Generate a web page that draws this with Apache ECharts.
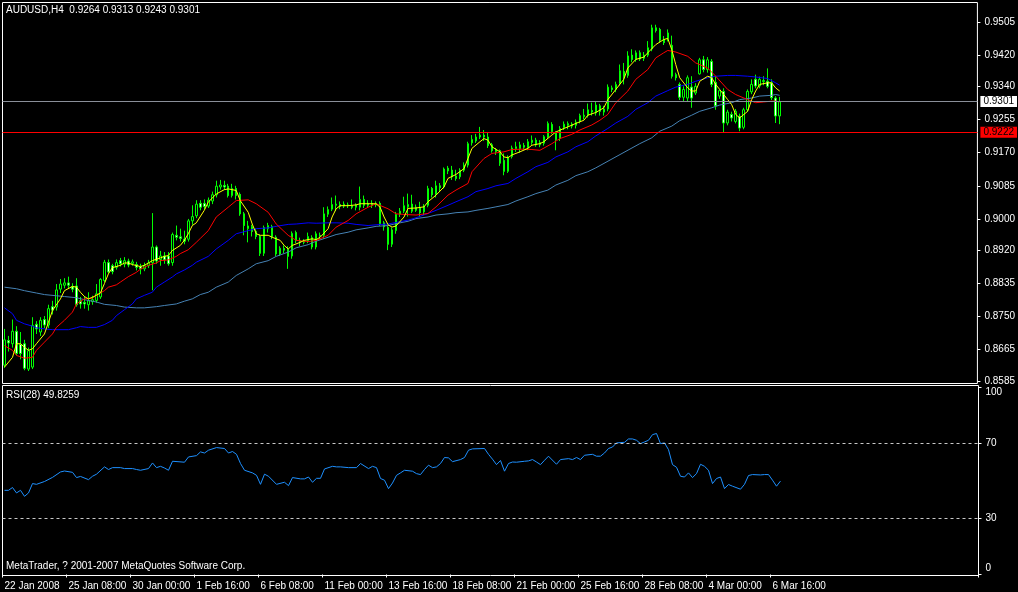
<!DOCTYPE html>
<html><head><meta charset="utf-8">
<script src="https://cdn.jsdelivr.net/npm/echarts@6/dist/echarts.min.js"></script>
<style>html,body{margin:0;padding:0;background:#000;}#c{width:1018px;height:592px;}</style>
</head><body><div id="c"></div>
<script>
// ---------- data ----------
const symbolTitle = 'AUDUSD,H4  0.9264 0.9313 0.9243 0.9301';
const rsiTitle = 'RSI(28) 49.8259';
const footerText = 'MetaTrader, ? 2001-2007 MetaQuotes Software Corp.';
const timeLabels = ['22 Jan 2008','25 Jan 08:00','30 Jan 00:00','1 Feb 16:00','6 Feb 08:00','11 Feb 00:00','13 Feb 16:00','18 Feb 08:00','21 Feb 00:00','25 Feb 16:00','28 Feb 08:00','4 Mar 00:00','6 Mar 16:00'];
const priceTicks = [0.9505,0.9420,0.9340,0.9255,0.9170,0.9085,0.9000,0.8920,0.8835,0.8750,0.8665,0.8585];
const rsiTicks = [100,70,30,0];
const bidPrice = 0.9301;
const levelPrice = 0.9222;
const rsiLevels = [70,30];

const opens = [
0.8625,0.8688,0.8680,0.8712,0.8678,0.8680,0.8615,0.8620,0.8730,0.8710,
0.8742,0.8728,0.8775,0.8774,0.8820,0.8830,0.8836,0.8826,0.8828,0.8790,
0.8786,0.8780,0.8788,0.8791,0.8800,0.8842,0.8888,0.8880,0.8876,0.8893,
0.8884,0.8892,0.8886,0.8883,0.8878,0.8872,0.8880,0.8888,0.8928,0.8896,
0.8905,0.8905,0.8888,0.8958,0.8954,0.8948,0.8948,0.8995,0.9008,0.9040,
0.9040,0.9033,0.9046,0.9062,0.9082,0.9086,0.9084,0.9060,0.9078,0.9063,
0.9013,0.8975,0.8980,0.8968,0.8955,0.8912,0.8975,0.8980,0.8953,0.8910,
0.8924,0.8922,0.8905,0.8965,0.8945,0.8940,0.8944,0.8952,0.8928,0.8958,
0.8958,0.9012,0.9025,0.9035,0.9037,0.9033,0.9036,0.9034,0.9030,0.9030,
0.9050,0.9035,0.9040,0.9036,0.9040,0.8990,0.8978,0.8935,0.8970,0.9012,
0.9020,0.9031,0.9038,0.9022,0.9028,0.9018,0.9035,0.9078,0.9062,0.9085,
0.9082,0.9130,0.9125,0.9110,0.9108,0.9125,0.9138,0.9195,0.9200,0.9210,
0.9215,0.9210,0.9190,0.9172,0.9175,0.9150,0.9122,0.9160,0.9180,0.9180,
0.9188,0.9182,0.9196,0.9202,0.9190,0.9194,0.9210,0.9242,0.9222,0.9206,
0.9234,0.9244,0.9238,0.9240,0.9250,0.9262,0.9266,0.9278,0.9272,0.9290,
0.9274,0.9282,0.9336,0.9332,0.9348,0.9378,0.9368,0.9420,0.9409,0.9426,
0.9412,0.9420,0.9436,0.9490,0.9486,0.9460,0.9462,0.9445,0.9370,0.9345,
0.9312,0.9310,0.9338,0.9323,0.9372,0.9408,0.9383,0.9404,0.9350,0.9315,
0.9327,0.9246,0.9268,0.9250,0.9263,0.9235,0.9280,0.9326,0.9358,0.9341,
0.9352,0.9353,0.9349,0.9310,0.9264];
const highs = [
0.8718,0.8700,0.8742,0.8725,0.8710,0.8690,0.8670,0.8748,0.8738,0.8748,
0.8751,0.8780,0.8790,0.8833,0.8846,0.8848,0.8852,0.8835,0.8848,0.8800,
0.8802,0.8812,0.8803,0.8833,0.8848,0.8895,0.8896,0.8885,0.8896,0.8900,
0.8902,0.8898,0.8896,0.8890,0.8885,0.8888,0.8895,0.9015,0.8932,0.8918,
0.8915,0.8915,0.8965,0.8983,0.8975,0.8970,0.9000,0.9035,0.9048,0.9048,
0.9050,0.9055,0.9070,0.9098,0.9100,0.9098,0.9090,0.9090,0.9085,0.9068,
0.9018,0.8995,0.8985,0.8975,0.8960,0.8983,0.8990,0.8985,0.8958,0.8930,
0.8932,0.8930,0.8968,0.8970,0.8952,0.8948,0.8965,0.8958,0.8968,0.8965,
0.9030,0.9032,0.9055,0.9060,0.9045,0.9045,0.9042,0.9050,0.9040,0.9083,
0.9060,0.9048,0.9048,0.9045,0.9045,0.8995,0.8982,0.8978,0.9018,0.9028,
0.9057,0.9065,0.9062,0.9037,0.9044,0.9038,0.9085,0.9082,0.9098,0.9092,
0.9132,0.9136,0.9136,0.9126,0.9130,0.9145,0.9198,0.9215,0.9218,0.9236,
0.9228,0.9223,0.9195,0.9182,0.9178,0.9168,0.9163,0.9188,0.9198,0.9198,
0.9195,0.9205,0.9214,0.9208,0.9202,0.9215,0.9250,0.9248,0.9225,0.9238,
0.9250,0.9250,0.9248,0.9255,0.9270,0.9282,0.9296,0.9298,0.9302,0.9295,
0.9290,0.9345,0.9342,0.9352,0.9396,0.9400,0.9430,0.9435,0.9432,0.9432,
0.9428,0.9456,0.9498,0.9498,0.9490,0.9469,0.9486,0.9470,0.9375,0.9350,
0.9340,0.9368,0.9366,0.9348,0.9413,0.9418,0.9415,0.9410,0.9366,0.9332,
0.9335,0.9280,0.9275,0.9282,0.9270,0.9285,0.9332,0.9358,0.9370,0.9365,
0.9366,0.9386,0.9358,0.9315,0.9313];
const lows = [
0.8618,0.8660,0.8670,0.8650,0.8640,0.8612,0.8610,0.8615,0.8705,0.8700,
0.8720,0.8720,0.8755,0.8765,0.8810,0.8822,0.8822,0.8812,0.8775,0.8770,
0.8770,0.8765,0.8780,0.8785,0.8795,0.8838,0.8860,0.8858,0.8870,0.8878,
0.8876,0.8876,0.8880,0.8868,0.8858,0.8866,0.8874,0.8817,0.8885,0.8880,
0.8885,0.8880,0.8880,0.8945,0.8942,0.8935,0.8942,0.8985,0.9002,0.9022,
0.9025,0.9028,0.9038,0.9055,0.9075,0.9075,0.9055,0.9055,0.9050,0.9008,
0.8958,0.8940,0.8955,0.8948,0.8905,0.8905,0.8965,0.8948,0.8905,0.8905,
0.8912,0.8872,0.8898,0.8938,0.8930,0.8935,0.8938,0.8922,0.8922,0.8948,
0.8950,0.9005,0.9020,0.9020,0.9025,0.9028,0.9028,0.9025,0.9022,0.9022,
0.9028,0.9028,0.9028,0.9030,0.8982,0.8970,0.8920,0.8928,0.8962,0.9005,
0.9015,0.9006,0.9015,0.9018,0.9005,0.9010,0.9030,0.9055,0.9055,0.9070,
0.9078,0.9115,0.9100,0.9098,0.9102,0.9120,0.9132,0.9188,0.9195,0.9205,
0.9200,0.9182,0.9170,0.9164,0.9136,0.9112,0.9118,0.9155,0.9172,0.9170,
0.9178,0.9176,0.9190,0.9185,0.9184,0.9188,0.9205,0.9218,0.9176,0.9200,
0.9228,0.9230,0.9232,0.9232,0.9245,0.9255,0.9260,0.9265,0.9265,0.9265,
0.9265,0.9276,0.9325,0.9325,0.9342,0.9345,0.9362,0.9402,0.9403,0.9405,
0.9405,0.9415,0.9430,0.9478,0.9452,0.9446,0.9455,0.9360,0.9355,0.9305,
0.9300,0.9300,0.9285,0.9318,0.9370,0.9376,0.9375,0.9338,0.9280,0.9308,
0.9221,0.9240,0.9250,0.9245,0.9225,0.9230,0.9275,0.9320,0.9335,0.9335,
0.9343,0.9335,0.9305,0.9246,0.9243];
const closes = [
0.8690,0.8682,0.8712,0.8655,0.8655,0.8617,0.8662,0.8727,0.8718,0.8740,
0.8728,0.8770,0.8766,0.8818,0.8833,0.8836,0.8830,0.8820,0.8780,0.8782,
0.8782,0.8790,0.8793,0.8808,0.8845,0.8889,0.8864,0.8865,0.8888,0.8885,
0.8893,0.8882,0.8890,0.8876,0.8872,0.8880,0.8887,0.8928,0.8892,0.8905,
0.8895,0.8885,0.8960,0.8953,0.8950,0.8943,0.8995,0.9006,0.9038,0.9030,
0.9032,0.9048,0.9062,0.9084,0.9087,0.9082,0.9060,0.9078,0.9060,0.9013,
0.8983,0.8982,0.8968,0.8955,0.8912,0.8978,0.8983,0.8955,0.8910,0.8925,
0.8920,0.8904,0.8963,0.8944,0.8940,0.8943,0.8955,0.8928,0.8962,0.8955,
0.9013,0.9024,0.9037,0.9038,0.9032,0.9038,0.9034,0.9030,0.9036,0.9050,
0.9035,0.9040,0.9035,0.9040,0.8988,0.8980,0.8935,0.8972,0.9012,0.9020,
0.9034,0.9037,0.9020,0.9030,0.9016,0.9033,0.9078,0.9062,0.9085,0.9080,
0.9128,0.9123,0.9108,0.9104,0.9125,0.9138,0.9193,0.9204,0.9210,0.9215,
0.9210,0.9188,0.9175,0.9177,0.9143,0.9122,0.9158,0.9182,0.9185,0.9190,
0.9184,0.9198,0.9202,0.9190,0.9196,0.9211,0.9245,0.9224,0.9204,0.9232,
0.9243,0.9240,0.9243,0.9248,0.9265,0.9266,0.9280,0.9274,0.9292,0.9276,
0.9282,0.9338,0.9332,0.9345,0.9380,0.9365,0.9418,0.9409,0.9426,0.9410,
0.9420,0.9439,0.9490,0.9483,0.9458,0.9452,0.9477,0.9366,0.9362,0.9312,
0.9332,0.9362,0.9310,0.9340,0.9408,0.9383,0.9408,0.9345,0.9290,0.9329,
0.9246,0.9274,0.9259,0.9276,0.9233,0.9280,0.9327,0.9345,0.9341,0.9358,
0.9355,0.9340,0.9311,0.9264,0.9301];

// moving averages: [bar index, value]
const maFast = [[0,0.8620],[2,0.8645],[3,0.8680],[4,0.8680],[5,0.8671],[6,0.8663],[7,0.8667],[8,0.8680],[10,0.8705],[11,0.8735],[12,0.8765],[14,0.8795],[15,0.8816],[17,0.8827],[18,0.8825],[19,0.8812],[20,0.8801],[21,0.8795],[22,0.8799],[24,0.8810],[25,0.8834],[26,0.8859],[27,0.8875],[29,0.8881],[30,0.8887],[31,0.8887],[32,0.8883],[34,0.8878],[35,0.8881],[36,0.8887],[37,0.8893],[39,0.8900],[40,0.8904],[41,0.8906],[42,0.8919],[44,0.8932],[45,0.8945],[46,0.8962],[47,0.8983],[48,0.8990],[50,0.9022],[51,0.9043],[53,0.9064],[55,0.9075],[56,0.9077],[58,0.9073],[59,0.9047],[61,0.9017],[62,0.8987],[63,0.8962],[64,0.8958],[66,0.8958],[67,0.8953],[69,0.8945],[70,0.8932],[71,0.8923],[72,0.8932],[74,0.8940],[75,0.8945],[77,0.8949],[78,0.8947],[79,0.8953],[81,0.8975],[82,0.9005],[83,0.9026],[84,0.9034],[86,0.9034],[88,0.9036],[89,0.9039],[91,0.9039],[93,0.9039],[94,0.9030],[95,0.9005],[96,0.8985],[97,0.8979],[98,0.8982],[100,0.9005],[101,0.9027],[103,0.9028],[105,0.9031],[106,0.9044],[108,0.9061],[110,0.9082],[111,0.9104],[113,0.9114],[115,0.9129],[116,0.9155],[117,0.9181],[119,0.9198],[120,0.9206],[121,0.9202],[122,0.9185],[124,0.9172],[125,0.9159],[126,0.9157],[127,0.9164],[129,0.9172],[131,0.9181],[132,0.9189],[134,0.9193],[135,0.9198],[137,0.9215],[138,0.9223],[140,0.9232],[141,0.9236],[143,0.9245],[145,0.9253],[146,0.9266],[148,0.9273],[150,0.9285],[151,0.9306],[153,0.9332],[155,0.9358],[156,0.9387],[158,0.9409],[160,0.9415],[161,0.9426],[163,0.9447],[165,0.9460],[166,0.9463],[167,0.9434],[168,0.9396],[169,0.9362],[171,0.9336],[172,0.9328],[173,0.9328],[174,0.9353],[176,0.9366],[177,0.9362],[178,0.9345],[179,0.9332],[181,0.9306],[182,0.9293],[183,0.9268],[184,0.9259],[186,0.9276],[187,0.9306],[188,0.9328],[189,0.9345],[191,0.9349],[192,0.9349],[193,0.9336],[194,0.9328]];
const maMid = [[0,0.8675],[2,0.8663],[3,0.8650],[5,0.8643],[7,0.8645],[8,0.8663],[10,0.8684],[12,0.8705],[13,0.8722],[15,0.8740],[17,0.8761],[18,0.8782],[20,0.8795],[22,0.8797],[23,0.8804],[25,0.8816],[26,0.8825],[28,0.8831],[29,0.8838],[31,0.8852],[33,0.8863],[34,0.8871],[36,0.8881],[38,0.8887],[39,0.8893],[41,0.8895],[43,0.8904],[44,0.8911],[46,0.8921],[48,0.8940],[49,0.8950],[51,0.8970],[53,0.9005],[56,0.9030],[58,0.9047],[61,0.9049],[63,0.9039],[66,0.9017],[68,0.8987],[71,0.8958],[73,0.8945],[76,0.8942],[78,0.8945],[81,0.8958],[83,0.8979],[86,0.8996],[88,0.9013],[91,0.9030],[93,0.9039],[96,0.9026],[98,0.9013],[101,0.9011],[103,0.9010],[106,0.9014],[108,0.9031],[111,0.9061],[113,0.9074],[116,0.9091],[117,0.9121],[120,0.9155],[122,0.9168],[125,0.9172],[127,0.9178],[130,0.9179],[132,0.9178],[134,0.9176],[137,0.9193],[139,0.9206],[142,0.9217],[144,0.9228],[147,0.9241],[149,0.9253],[151,0.9268],[153,0.9298],[156,0.9328],[158,0.9358],[161,0.9383],[163,0.9413],[165,0.9426],[166,0.9432],[168,0.9428],[171,0.9417],[173,0.9400],[176,0.9387],[178,0.9366],[181,0.9332],[183,0.9319],[186,0.9306],[188,0.9298],[190,0.9300],[192,0.9302],[193,0.9302],[194,0.9300]];
const maSlow = [[0,0.8772],[2,0.8757],[3,0.8740],[5,0.8731],[7,0.8725],[8,0.8721],[10,0.8718],[12,0.8716],[16,0.8716],[18,0.8721],[19,0.8724],[21,0.8722],[23,0.8722],[25,0.8729],[27,0.8740],[28,0.8752],[30,0.8767],[32,0.8782],[33,0.8795],[35,0.8804],[37,0.8812],[38,0.8825],[40,0.8838],[42,0.8851],[43,0.8859],[45,0.8869],[47,0.8881],[48,0.8889],[51,0.8904],[53,0.8923],[56,0.8945],[58,0.8962],[61,0.8970],[63,0.8975],[66,0.8977],[68,0.8981],[71,0.8986],[73,0.8987],[76,0.8990],[78,0.8989],[81,0.8990],[83,0.8990],[86,0.8989],[88,0.8986],[91,0.8983],[93,0.8985],[96,0.8987],[98,0.8991],[101,0.8997],[103,0.9003],[106,0.9014],[108,0.9022],[111,0.9035],[113,0.9044],[116,0.9057],[118,0.9070],[121,0.9078],[123,0.9085],[126,0.9091],[128,0.9104],[131,0.9121],[133,0.9134],[136,0.9145],[138,0.9159],[141,0.9172],[143,0.9185],[146,0.9198],[148,0.9213],[151,0.9232],[153,0.9246],[156,0.9263],[158,0.9281],[161,0.9298],[163,0.9315],[166,0.9329],[168,0.9338],[171,0.9345],[173,0.9353],[176,0.9362],[178,0.9366],[181,0.9368],[183,0.9368],[186,0.9366],[188,0.9364],[191,0.9360],[193,0.9349],[194,0.9343]];
const maLong = [[0,0.8825],[3,0.8821],[5,0.8816],[8,0.8810],[10,0.8806],[13,0.8803],[15,0.8801],[18,0.8798],[20,0.8793],[23,0.8787],[25,0.8781],[28,0.8778],[30,0.8774],[33,0.8772],[35,0.8772],[38,0.8775],[40,0.8778],[43,0.8782],[45,0.8789],[47,0.8795],[49,0.8806],[51,0.8812],[53,0.8825],[56,0.8838],[58,0.8855],[61,0.8872],[63,0.8885],[66,0.8893],[68,0.8904],[71,0.8915],[73,0.8926],[76,0.8934],[78,0.8943],[81,0.8953],[83,0.8960],[86,0.8966],[88,0.8972],[91,0.8977],[93,0.8981],[96,0.8983],[98,0.8988],[101,0.8994],[103,0.9001],[106,0.9005],[108,0.9010],[111,0.9013],[113,0.9016],[116,0.9018],[118,0.9022],[121,0.9027],[123,0.9031],[126,0.9037],[128,0.9046],[131,0.9057],[133,0.9065],[136,0.9074],[138,0.9087],[141,0.9099],[143,0.9111],[146,0.9121],[148,0.9131],[159,0.9193],[162,0.9208],[164,0.9225],[167,0.9238],[169,0.9252],[172,0.9266],[174,0.9276],[177,0.9285],[179,0.9292],[182,0.9298],[184,0.9306],[187,0.9310],[189,0.9315],[192,0.9317],[193,0.9319],[194,0.9317]];
const rsiValues = [[0,44.9],[1,44.9],[2,46.4],[3,43.5],[4,44.9],[5,41.7],[6,43.5],[7,48.5],[8,48.1],[10,49.6],[12,51.8],[14,54.7],[15,55.2],[17,54.5],[18,51.7],[19,52.3],[21,50.6],[22,52.4],[23,53.5],[25,57.4],[26,56.0],[27,57.0],[29,57.0],[30,56.5],[32,56.5],[33,56.0],[34,55.6],[36,56.5],[37,59.5],[38,57.0],[39,57.7],[40,56.8],[41,55.6],[42,60.4],[45,59.9],[46,62.7],[48,63.4],[49,65.4],[50,64.8],[51,66.3],[53,67.7],[55,67.2],[56,64.8],[57,65.6],[58,64.1],[59,59.2],[60,55.6],[62,54.2],[63,52.9],[64,48.1],[65,53.5],[66,52.4],[68,48.1],[70,49.2],[71,47.4],[72,51.7],[74,51.0],[75,51.0],[76,52.0],[77,49.2],[78,51.3],[79,51.3],[80,56.3],[82,57.7],[83,57.4],[84,57.4],[86,57.0],[88,57.0],[89,59.2],[91,56.5],[92,57.7],[93,57.0],[94,51.2],[95,50.3],[96,45.8],[97,48.8],[98,52.9],[99,54.2],[100,55.6],[102,55.1],[103,53.8],[104,53.3],[105,56.0],[106,58.3],[107,57.0],[108,57.4],[109,59.2],[110,62.4],[111,62.2],[112,60.2],[114,61.3],[115,62.4],[116,66.3],[117,67.0],[120,67.2],[121,64.1],[122,61.5],[123,58.6],[124,60.8],[125,55.1],[126,59.2],[127,60.0],[128,59.9],[130,60.4],[131,60.6],[132,61.3],[133,60.0],[134,58.6],[135,60.9],[136,63.1],[138,58.8],[139,61.3],[141,61.8],[142,61.3],[143,62.4],[144,61.3],[145,63.6],[147,64.1],[148,63.1],[149,63.1],[150,64.8],[151,67.2],[152,68.0],[153,70.2],[155,70.5],[156,72.3],[157,72.3],[158,71.6],[159,69.8],[160,70.7],[161,71.6],[162,74.6],[163,75.2],[164,69.8],[165,70.2],[166,66.6],[167,58.6],[168,57.2],[169,52.4],[170,52.0],[171,54.2],[172,51.7],[173,53.8],[174,58.8],[175,57.7],[176,55.6],[177,48.5],[178,51.2],[179,52.0],[180,45.8],[181,48.0],[182,47.1],[184,45.5],[185,48.1],[186,52.8],[187,53.3],[189,53.1],[190,53.3],[191,53.3],[192,50.3],[193,47.1],[194,49.83]];

// ---------- layout / style ----------
const SLOTS = 244, LABEL_EVERY = 16;
const FONT = 'Liberation Sans', FS = 10;
const categories = Array.from({length: SLOTS}, (_, i) => String(i));
const candles = opens.map((o, i) => [o, closes[i], lows[i], highs[i]]);
const showTick = (i) => i % LABEL_EVERY === 0 && (i / LABEL_EVERY) < timeLabels.length;
const txt = {color: '#ffffff', fontSize: FS, fontFamily: FONT, fontWeight: 'normal'};

const chart = echarts.init(document.getElementById('c'), null, {renderer: 'canvas'});
chart.setOption({
  animation: false,
  backgroundColor: '#000000',
  title: [
    {text: symbolTitle, left: 6, top: 5, padding: 0, textStyle: txt},
    {text: rsiTitle, left: 6, top: 390, padding: 0, textStyle: txt},
    {text: footerText, left: 6, top: 561, padding: 0, textStyle: txt}
  ],
  grid: [
    {left: 2.5, top: 2.5, width: 976, height: 381, show: true, borderColor: '#ffffff', borderWidth: 1, backgroundColor: 'transparent'},
    {left: 2.5, top: 385.5, width: 976, height: 190, show: true, borderColor: '#ffffff', borderWidth: 1, backgroundColor: 'transparent'}
  ],
  xAxis: [
    {type: 'category', gridIndex: 0, data: categories, boundaryGap: true,
     axisLine: {show: false}, axisTick: {show: false}, axisLabel: {show: false}, splitLine: {show: false}},
    {type: 'category', gridIndex: 1, data: categories, boundaryGap: true,
     axisLine: {show: false},
     axisTick: {show: true, interval: showTick, length: 3, lineStyle: {color: '#ffffff'}},
     axisLabel: {interval: showTick, align: 'left', margin: 6, ...txt,
       formatter: (v, idx) => timeLabels[idx / LABEL_EVERY] || ''},
     splitLine: {show: false}}
  ],
  yAxis: [
    {type: 'value', gridIndex: 0, position: 'right', min: 0.8578, max: 0.9555,
     axisLine: {show: false}, splitLine: {show: false},
     axisTick: {show: true, length: 3, customValues: priceTicks, lineStyle: {color: '#ffffff'}},
     axisLabel: {customValues: priceTicks, margin: 7, ...txt, formatter: (v) => v.toFixed(4)}},
    {type: 'value', gridIndex: 1, position: 'right', min: -0.53, max: 100.8,
     axisLine: {show: false}, splitLine: {show: false},
     axisTick: {show: true, length: 3, customValues: rsiTicks, lineStyle: {color: '#ffffff'}},
     axisLabel: {customValues: rsiTicks, margin: 7, ...txt,
       formatter: (v) => v === 100 ? '{t|100}' : (v === 0 ? '{b|0}' : String(v)),
       rich: {t: {padding: [10, 0, 0, 0]}, b: {padding: [0, 0, 13, 0]}}}}
  ],
  series: [
    {type: 'candlestick', xAxisIndex: 0, yAxisIndex: 0, data: candles, barWidth: 2, z: 2,
     itemStyle: {color: '#000000', color0: '#ffffff', borderColor: '#00ff00', borderColor0: '#00ff00', borderWidth: 1},
     markLine: {silent: true, symbol: 'none', animation: false, precision: 4,
       label: {position: 'end', distance: 3, fontSize: FS, fontFamily: FONT, padding: [1, 3, 0, 3],
               formatter: (p) => Number(p.value).toFixed(4)},
       data: [
         {yAxis: bidPrice, lineStyle: {color: '#8a8f99', width: 1, type: 'solid'},
          label: {backgroundColor: '#ffffff', color: '#000000'}},
         {yAxis: levelPrice, lineStyle: {color: '#ff0000', width: 1, type: 'solid'},
          label: {backgroundColor: '#ff0000', color: '#000000'}}
       ]}},
    {type: 'line', xAxisIndex: 0, yAxisIndex: 0, data: maLong, symbol: 'none', z: 3,
     lineStyle: {color: '#4682b4', width: 1}},
    {type: 'line', xAxisIndex: 0, yAxisIndex: 0, data: maSlow, symbol: 'none', z: 3,
     lineStyle: {color: '#0000ff', width: 1}},
    {type: 'line', xAxisIndex: 0, yAxisIndex: 0, data: maMid, symbol: 'none', z: 3,
     lineStyle: {color: '#ff0000', width: 1}},
    {type: 'line', xAxisIndex: 0, yAxisIndex: 0, data: maFast, symbol: 'none', z: 3,
     lineStyle: {color: '#ffff00', width: 1}},
    {type: 'line', xAxisIndex: 1, yAxisIndex: 1, data: rsiValues, symbol: 'none', z: 3,
     lineStyle: {color: '#1e90ff', width: 1},
     markLine: {silent: true, symbol: 'none', animation: false, precision: 2, label: {show: false},
       lineStyle: {color: '#c8c8c8', width: 1, type: [3, 3]},
       data: rsiLevels.map(v => ({yAxis: v}))}}
  ]
});
</script></body></html>
